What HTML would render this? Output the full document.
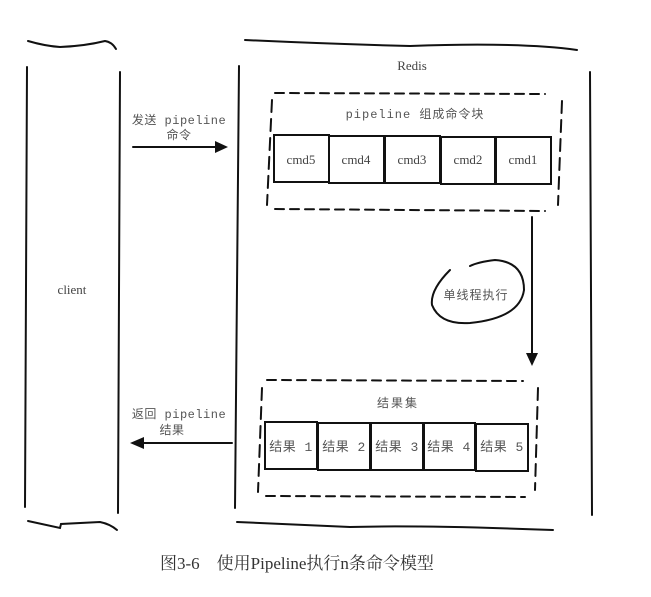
<!DOCTYPE html>
<html><head><meta charset="utf-8"><style>
html,body{margin:0;padding:0;background:#fff;}
svg{display:block}
.m{font-family:"Liberation Mono","Noto Sans CJK SC",monospace;font-size:12px;fill:#555;letter-spacing:0.5px}
.s{font-family:"Liberation Serif","Noto Serif CJK SC",serif;font-size:13px;fill:#444}
.c{font-family:"Liberation Serif","Noto Serif CJK SC",serif;font-size:17px;fill:#333}
</style></head><body>
<svg width="651" height="597" viewBox="0 0 651 597" xmlns="http://www.w3.org/2000/svg">
<g fill="none" stroke="#111" stroke-width="2" stroke-linecap="round">
<path d="M28 41 Q45 46 60 47 Q85 46 105 41 Q112 42 116 49"/>
<path d="M27 67 L25 507"/>
<path d="M120 72 L118 513"/>
<path d="M28 521 L60 528 L61 524 L100 522 Q110 524 117 530"/>
<path d="M245 40 Q330 44 410 46 Q520 42 577 50"/>
<path d="M239 66 L235 508"/>
<path d="M590 72 L592 515"/>
<path d="M237 522 L350 527 Q420 525 553 530"/>
<path d="M275 93 L545 94" stroke-dasharray="9 6"/>
<path d="M272 100 L267 205" stroke-dasharray="12 7"/>
<path d="M562 101 L558 205" stroke-dasharray="12 7"/>
<path d="M275 209 L545 211" stroke-dasharray="9 6"/>
<rect x="274" y="135" width="55" height="47"/>
<rect x="329" y="136" width="55" height="47"/>
<rect x="385" y="136" width="55" height="47"/>
<rect x="441" y="137" width="54" height="47"/>
<rect x="496" y="137" width="55" height="47"/>
<path d="M267 380 L523 381" stroke-dasharray="9 6"/>
<path d="M262 388 L258 492" stroke-dasharray="12 7"/>
<path d="M538 388 L535 490" stroke-dasharray="12 7"/>
<path d="M266 496 L525 497" stroke-dasharray="9 6"/>
<rect x="265" y="422" width="52" height="47"/>
<rect x="318" y="423" width="52" height="47"/>
<rect x="371" y="423" width="52" height="47"/>
<rect x="424" y="423" width="51" height="47"/>
<rect x="476" y="424" width="52" height="47"/>
<path d="M133 147 L217 147"/>
<path d="M532 217 L532 356"/>
<path d="M232 443 L142 443"/>
<path d="M450 270 Q430 290 432 305 Q440 325 470 323 Q520 318 524 290 Q524 262 495 260 Q478 262 470 266"/>
</g>
<g fill="#111">
<path d="M215 141 L228 147 L215 153 Z"/>
<path d="M526 353 L532 366 L538 353 Z"/>
<path d="M144 437 L130 443 L144 449 Z"/>
</g>
<text class="s" x="72" y="294" text-anchor="middle">client</text>
<text class="s" x="412" y="70" text-anchor="middle">Redis</text>
<text class="m" x="179" y="124" text-anchor="middle">发送 pipeline</text>
<text class="m" x="179" y="139" text-anchor="middle">命令</text>
<text class="m" x="415" y="118" text-anchor="middle" style="letter-spacing:1px">pipeline 组成命令块</text>
<g class="s" text-anchor="middle">
<text x="301" y="164">cmd5</text><text x="356" y="164">cmd4</text><text x="412" y="164">cmd3</text><text x="468" y="164">cmd2</text><text x="523" y="164">cmd1</text>
</g>
<text class="m" x="476" y="299" text-anchor="middle" style="letter-spacing:1px">单线程执行</text>
<text class="m" x="398" y="407" text-anchor="middle" style="letter-spacing:2px">结果集</text>
<g class="m" text-anchor="middle" style="font-size:13px">
<text x="291" y="451">结果 1</text><text x="344" y="451">结果 2</text><text x="397" y="451">结果 3</text><text x="449" y="451">结果 4</text><text x="502" y="451">结果 5</text>
</g>
<text class="m" x="179" y="418" text-anchor="middle">返回 pipeline</text>
<text class="m" x="172" y="434" text-anchor="middle">结果</text>
<text class="c" x="160" y="569">图3-6　使用Pipeline执行n条命令模型</text>
</svg>
</body></html>
